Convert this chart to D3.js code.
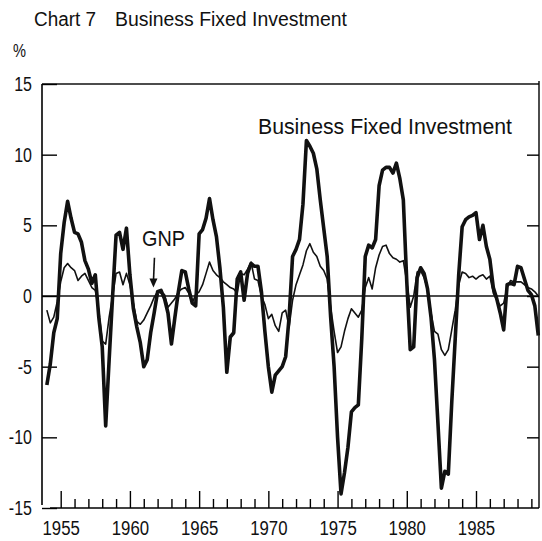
<!DOCTYPE html>
<html>
<head>
<meta charset="utf-8">
<script src="https://cdn.jsdelivr.net/npm/d3@7"></script>
<style>
  html, body { margin: 0; padding: 0; background: #fff; }
  svg { display: block; }
  text { font-family: "Liberation Sans", Arimo, Arial, sans-serif; fill: #111; }
</style>
</head>
<body>
<svg id="chart" width="542" height="541"></svg>
<script>
// ---- data (quarterly, starting 1954 Q1) ----
const startYear = 1954;
const bfi = [
  -6.3, -4.8, -2.6, -1.6,   3.0, 5.2, 6.7, 5.5,   4.5, 4.4, 3.8, 2.5,   1.9, 0.9, 1.5, -1.5,
  -3.6, -9.2, -4.5, 0.0,    4.3, 4.5, 3.3, 4.8,   1.5, -0.9, -2.2, -3.3, -5.0, -4.5, -2.6, -1.2,
  0.3, 0.4, -0.2, -1.2,     -3.4, -1.5, 0.3, 1.8, 1.7, 0.5, -0.5, -0.7,  4.4, 4.7, 5.5, 6.9,
  5.4, 4.2, 2.0, -0.8,      -5.4, -2.9, -2.6, 1.2, 1.7, -0.3, 1.6, 2.3,  2.1, 2.1, 0.3, -2.5,
  -5.0, -6.8, -5.6, -5.3,   -5.0, -4.3, -1.5, 2.8, 3.3, 4.0, 6.5, 11.0, 10.6, 10.1, 9.0, 6.8,
  4.8, 2.8, -1.5, -5.0,     -10.0, -14.0, -12.5, -10.7, -8.2, -7.9, -7.7, -3.0,
  2.8, 3.6, 3.4, 4.0,       7.8, 8.9, 9.1, 9.1,  8.7, 9.4, 8.3, 6.8,
  1.0, -3.8, -3.6, 1.3,     2.0, 1.6, 0.5, -1.5, -4.5, -9.0, -13.6, -12.4,
  -12.6, -7.5, -3.0, 1.5,   4.9, 5.4, 5.6, 5.7,  5.9, 4.0, 5.0, 3.5,
  2.6, 0.6, -0.2, -1.2,     -2.4, 0.8, 0.9, 0.8, 2.1, 2.0, 1.2, 0.4,
  0.1, -0.7, -2.8
];
const gnp = [
  -1.0, -1.9, -1.5, -0.4,   1.0, 2.0, 2.3, 2.0,   1.8, 1.1, 1.4, 1.6,   1.1, 0.6, 0.4, -1.0,
  -3.2, -3.4, -1.5, 0.0,    1.6, 1.7, 0.8, 1.6,   0.8, -0.5, -1.8, -2.0, -1.7, -1.2, -0.7, -0.1,
  0.3, 0.2, 0.1, -0.8,      -0.5, -0.2, 0.3, 0.5, 0.6, 0.2, -0.5, 0.1,  0.3, 0.8, 1.6, 2.4,
  1.8, 1.5, 1.3, 1.0,       0.8, 0.6, 0.5, 0.2,  1.6, 1.5, 1.9, 2.4,  1.2, 1.1, 0.0, -0.6,
  -1.6, -1.3, -2.1, -2.5,   -1.2, -1.0, -2.2, -0.3, 0.8, 1.5, 2.2, 3.2, 3.7, 3.1, 2.8, 2.1,
  1.8, 1.2, -0.8, -2.5,     -4.0, -3.6, -2.5, -1.6, -0.9, -1.2, -1.5, -1.0,
  0.6, 1.3, 0.5, 2.0,       2.9, 3.5, 3.6, 3.0,  2.7, 2.6, 2.4, 2.5,
  1.0, -0.8, 0.0, 1.7,      1.8, 1.3, 0.5, -1.2, -2.5, -2.7, -3.8, -4.2,
  -3.8, -2.4, -1.0, 0.8,    1.7, 1.6, 1.3, 1.4,  1.2, 1.4, 1.5, 1.2,
  1.4, 0.2, -0.3, -0.7,     -0.5, 0.6, 1.1, 1.0, 1.0, 1.0, 0.8, 0.6,
  0.5, 0.3, 0.0
];
const yTicks = [-15, -10, -5, 0, 5, 10, 15];
const xMajorTicks = [1955, 1960, 1965, 1970, 1975, 1980, 1985];
const xMinorTicks = d3.range(1955, 1990);
const titleLeft = "Chart 7";
const titleRight = "Business Fixed Investment";
const unitLabel = "%";
const bfiLabel = "Business Fixed Investment";
const gnpLabel = "GNP";

// ---- layout ----
const svg = d3.select("#chart");
const x = d3.scaleLinear().domain([1955, 1985]).range([60.7, 476]);
const y = d3.scaleLinear().domain([-15, 15]).range([508, 84]);
const left = 42, right = 539;
const narrow = 0.8;

// title
svg.append("text").attr("x", 34).attr("y", 26).attr("font-size", 20)
  .attr("textLength", 62).attr("lengthAdjust", "spacingAndGlyphs").text(titleLeft);
svg.append("text").attr("x", 115).attr("y", 26).attr("font-size", 20)
  .attr("textLength", 232).attr("lengthAdjust", "spacingAndGlyphs").text(titleRight);
svg.append("text").attr("x", 13).attr("y", 57).attr("font-size", 19)
  .attr("textLength", 13).attr("lengthAdjust", "spacingAndGlyphs").text(unitLabel);

// frame lines
const frame = svg.append("g").attr("stroke", "#111").attr("fill", "none");
frame.append("line").attr("x1", left).attr("x2", right).attr("y1", y(15)).attr("y2", y(15)).attr("stroke-width", 1.6);
frame.append("line").attr("x1", left).attr("x2", right).attr("y1", y(0)).attr("y2", y(0)).attr("stroke-width", 1.6);

// left axis
const gL = svg.append("g").attr("transform", `translate(${left},0)`)
  .call(d3.axisLeft(y).tickValues(yTicks).tickSize(-15).tickSizeOuter(0).tickPadding(10)
    .tickFormat(d => String(d)));
gL.select(".domain").attr("d", `M0,${y(15)}V${y(-15) - 3}`).attr("stroke-width", 1.6);
gL.selectAll(".tick line").attr("stroke-width", 1.4);
gL.selectAll("text").attr("font-size", 20).attr("font-family", null)
  .attr("x", -10 / narrow).attr("transform", `scale(${narrow},1)`);

// right axis
const gR = svg.append("g").attr("transform", `translate(${right},0)`)
  .call(d3.axisRight(y).tickValues(yTicks.filter(v => v > -15 && v < 15)).tickSize(-12).tickSizeOuter(0).tickFormat(""));
gR.select(".domain").attr("d", `M0,${y(15) - 3}V${y(-15)}`).attr("stroke-width", 1.4);
gR.selectAll(".tick line").attr("stroke-width", 1.4);

// bottom axis: minor then major ticks
const gBm = svg.append("g").attr("transform", `translate(0,${y(-15)})`)
  .call(d3.axisBottom(x).tickValues(xMinorTicks.filter(v => v % 5 !== 0)).tickSize(-9).tickSizeOuter(0).tickFormat(""));
gBm.select(".domain").attr("d", `M50,0H${right}`).attr("stroke-width", 1.6);
gBm.selectAll(".tick line").attr("stroke-width", 1.4);
const gB = svg.append("g").attr("transform", `translate(0,${y(-15)})`)
  .call(d3.axisBottom(x).tickValues(xMajorTicks).tickSize(-17).tickSizeOuter(0).tickPadding(12).tickFormat(d3.format("d")));
gB.select(".domain").remove();
gB.selectAll(".tick line").attr("stroke-width", 1.4);
gB.selectAll("text").attr("font-size", 21).attr("font-family", null)
  .attr("transform", `scale(${narrow},1)`);

// series
const t = i => startYear + i / 4;
const line = d3.line().x((d, i) => x(t(i))).y(d => y(d));
svg.append("path").datum(gnp).attr("d", line)
  .attr("fill", "none").attr("stroke", "#111").attr("stroke-width", 1.6).attr("stroke-linejoin", "round");
svg.append("path").datum(bfi).attr("d", line)
  .attr("fill", "none").attr("stroke", "#111").attr("stroke-width", 3.6).attr("stroke-linejoin", "round");

// labels
svg.append("text").attr("x", 258).attr("y", 134).attr("font-size", 22)
  .attr("textLength", 254).attr("lengthAdjust", "spacingAndGlyphs").text(bfiLabel);
svg.append("text").attr("x", 142).attr("y", 246).attr("font-size", 22)
  .attr("textLength", 43).attr("lengthAdjust", "spacingAndGlyphs").text(gnpLabel);

// arrow
const ax = x(1961.7), ay1 = y(2.7), ay2 = y(0.6);
svg.append("line").attr("x1", ax + 1).attr("y1", ay1).attr("x2", ax).attr("y2", ay2 - 6)
  .attr("stroke", "#111").attr("stroke-width", 1.6);
svg.append("path").attr("d", `M${ax - 4},${ay2 - 9}L${ax},${ay2}L${ax + 4},${ay2 - 9}Z`).attr("fill", "#111");
</script>
</body>
</html>
